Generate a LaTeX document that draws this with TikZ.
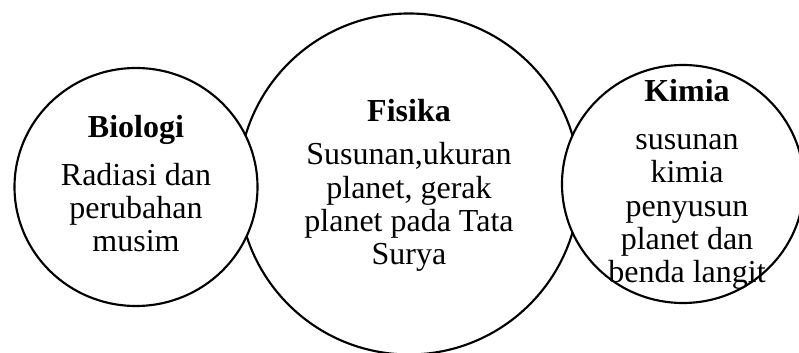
\documentclass[tikz,border=0pt]{standalone}
\usepackage{fontspec}
\setmainfont{Liberation Serif}
\usetikzlibrary{positioning}

\begin{document}
\begin{tikzpicture}[x=0.75pt, y=0.75pt,
	lingkaran/.style={line width=1.6pt, draw=black, fill=white},
	judul/.style={font=\fontsize{24}{25}\selectfont\bfseries, inner sep=0pt, anchor=base},
	isi/.style={font=\fontsize{24}{25}\selectfont, align=center, inner sep=0pt, anchor=base}]
			%%%%% START %%%%%
			
			\useasboundingbox (0, 0) rectangle (799, 353);
			
			% Fisika (tengah, paling besar)
			\draw[lingkaran] (409, 169) circle (170.5);
			
			% Biologi (kiri)
			\draw[lingkaran] (136, 166) ellipse [x radius=121.5, y radius=119];
			
			% Kimia (kanan)
			\draw[lingkaran] (683, 169) ellipse [x radius=121, y radius=119];
			
			\node[judul] (bio) at (136, 215) {Biologi};
			\node[isi] (bioisi) at (136, 101) {Radiasi dan\\perubahan\\musim};
			
			\node[judul] (fis) at (409, 231) {Fisika};
			\node[isi] (fisisi) at (409, 88) {Susunan,ukuran\\planet, gerak\\planet pada Tata\\Surya};
			
			\node[judul] (kim) at (687, 251) {Kimia};
			\node[isi] (kimisi) at (687, 70) {susunan\\kimia\\penyusun\\planet dan\\benda langit};
			
			%%%%% END %%%%%
		\end{tikzpicture}
\end{document}
